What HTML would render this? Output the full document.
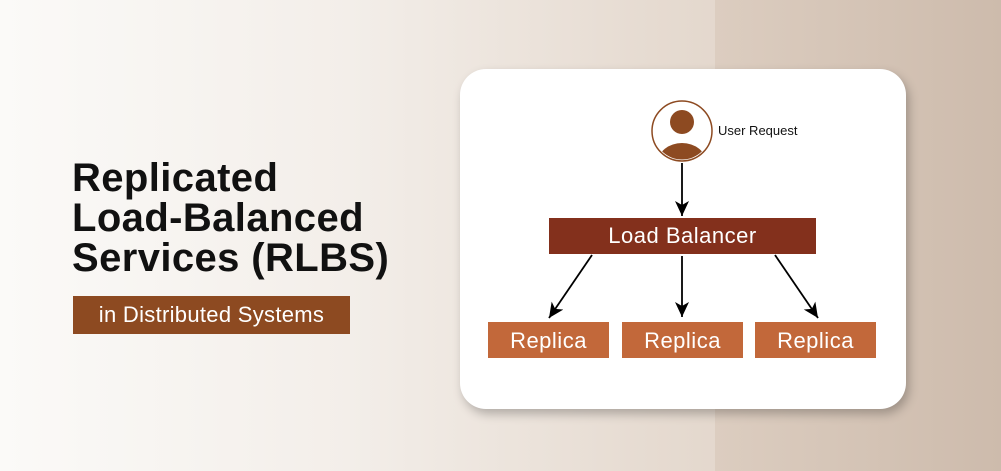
<!DOCTYPE html>
<html><head><style>
body{margin:0;width:1001px;height:471px;overflow:hidden;position:relative;font-family:"Liberation Sans",sans-serif;
background:linear-gradient(90deg,#fbfaf8 0%,#f3eee9 35%,#e6dbd1 65%,#dacbbd 100%);}
.right{position:absolute;left:715px;top:0;width:286px;height:471px;background:linear-gradient(90deg,#dccdc0,#cdbbac);}
.t{position:absolute;left:72px;font-weight:bold;font-size:40px;color:#111;line-height:40px;letter-spacing:0.4px}
.sub{position:absolute;left:73px;top:296px;width:277px;height:38px;background:#8d4a21;color:#fff;font-size:22px;line-height:38px;text-align:center;letter-spacing:0.3px}
.card{position:absolute;left:460px;top:69px;width:446px;height:340px;background:#fff;border-radius:26px;box-shadow:3px 5px 10px rgba(0,0,0,.25)}
.box{position:absolute;color:#fff;text-align:center;font-size:22px;letter-spacing:0.5px}
</style></head><body>
<div class="right"></div>
<div class="t" style="top:158px">Replicated</div>
<div class="t" style="top:198px">Load-Balanced</div>
<div class="t" style="top:238px">Services (RLBS)</div>
<div class="sub">in Distributed Systems</div>
<div class="card"></div>
<svg style="position:absolute;left:0;top:0" width="1001" height="471">
<defs><marker id="a" markerWidth="16" markerHeight="16" refX="15" refY="7" orient="auto" markerUnits="userSpaceOnUse"><path d="M0,0 L15,7 L0,14 L4,7z" fill="#000"/></marker></defs>
<circle cx="682" cy="131" r="30" fill="#fff" stroke="#8d4a21" stroke-width="1.5"/>
<clipPath id="c"><circle cx="682" cy="131" r="28.5"/></clipPath>
<circle cx="682" cy="122" r="12" fill="#8d4a21"/>
<ellipse cx="682" cy="162" rx="24" ry="19" fill="#8d4a21" clip-path="url(#c)"/>
<text x="718" y="135" font-size="13" font-family="Liberation Sans" fill="#111">User Request</text>
<g stroke="#000" stroke-width="1.8" marker-end="url(#a)">
<line x1="682" y1="163" x2="682" y2="216"/>
<line x1="592" y1="255" x2="549" y2="318"/>
<line x1="682" y1="256" x2="682" y2="317"/>
<line x1="775" y1="255" x2="818" y2="318"/>
</g>
</svg>
<div class="box" style="left:549px;top:218px;width:267px;height:36px;line-height:36px;background:#83301c">Load Balancer</div>
<div class="box" style="left:488px;top:322px;width:121px;height:36px;line-height:37px;background:#c2683a">Replica</div>
<div class="box" style="left:622px;top:322px;width:121px;height:36px;line-height:37px;background:#c2683a">Replica</div>
<div class="box" style="left:755px;top:322px;width:121px;height:36px;line-height:37px;background:#c2683a">Replica</div>
</body></html>
